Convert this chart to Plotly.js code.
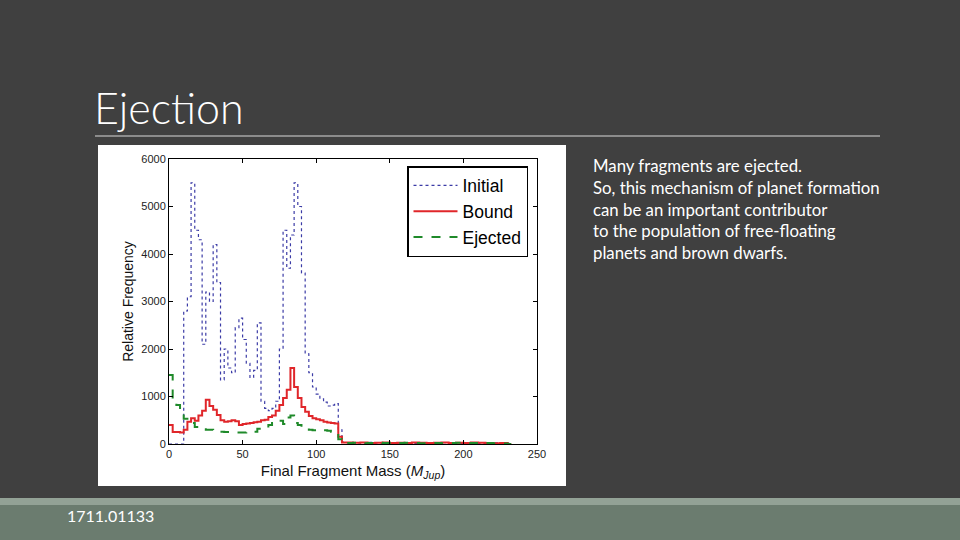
<!DOCTYPE html>
<html>
<head>
<meta charset="utf-8">
<script src="https://cdn.plot.ly/plotly-3.0.1.min.js"></script>
<style>
  html, body { margin: 0; padding: 0; background: #404040; }
  #chart { width: 960px; height: 540px; }
</style>
</head>
<body>
<div id="chart"></div>
<script>
// ---- data ----
const massEdges = [0,2.5,5,7.5,10,12.5,15,17.5,20,22.5,25,27.5,30,32.5,35,37.5,40,42.5,45,47.5,
  50,52.5,55,57.5,60,62.5,65,67.5,70,72.5,75,77.5,80,82.5,85,87.5,90,92.5,95,97.5,
  100,102.5,105,107.5,110,112.5,115,117.5,120,125,130,135,140,145,150,155,160,165,170,175,
  180,185,190,195,200,205,210,215,220,225,230,232.5];

const initialCounts = [0,0,0,0,2800,3100,5500,4500,4300,2100,3200,3000,4200,3400,1350,2000,1600,1500,2450,2650,
  2200,1700,1400,1550,2550,900,750,700,750,900,2000,4500,3700,4400,5500,5000,3600,1900,1500,1200,
  1050,950,880,800,820,850,300,40,
  30,25,20,35,20,15,25,20,30,15,20,25,20,30,20,15,25,20,15,20,25,15,20];

const boundCounts = [400,250,250,240,300,470,540,490,600,700,930,800,720,610,500,470,480,500,480,400,
  420,430,440,460,470,500,510,570,600,700,820,970,1140,1600,1200,970,780,680,590,540,
  520,500,470,450,440,430,150,30,
  30,25,30,20,25,30,20,25,20,30,25,20,25,30,20,25,20,30,25,20,15,20,0];

const ejectedCounts = [1450,880,820,650,530,440,440,360,340,310,300,300,280,260,260,250,250,240,240,240,
  240,245,250,260,320,360,370,400,440,460,490,420,560,600,440,400,350,330,300,290,
  290,280,290,280,260,250,100,30,
  20,25,15,20,25,20,15,20,25,20,15,20,20,15,20,25,15,20,15,20,15,10,0];

const seriesNames = ["Initial", "Bound", "Ejected"];
const xTickVals = [0, 50, 100, 150, 200, 250];
const yTickVals = [0, 1000, 2000, 3000, 4000, 5000, 6000];

const slideTitle = "Ejection";
const bodyLines = [
  "Many fragments are ejected.",
  "So, this mechanism of planet formation",
  "can be an important contributor",
  "to the population of free-floating",
  "planets and brown dwarfs."
];
const footerText = "1711.01133";

// ---- layout helpers (pixel -> paper, margins are zero) ----
const W = 960, H = 540;
const px = v => v / W;
const py = v => 1 - v / H;

function stepTrace(name, counts, color, dash, width) {
  return {
    type: "scatter", mode: "lines", name: name,
    x: massEdges, y: counts.concat([0]),
    line: { shape: "hv", color: color, dash: dash, width: width },
    hoverinfo: "skip"
  };
}

const traces = [
  stepTrace(seriesNames[0], initialCounts, "#3b3ba6", "dot", 1.2),
  stepTrace(seriesNames[1], boundCounts, "#e0262a", "solid", 2),
  stepTrace(seriesNames[2], ejectedCounts, "#1f8a2a", "dash", 2)
];

const axisFont = { family: "Liberation Sans, Arial, sans-serif", size: 11, color: "#222" };

const annotations = [
  { text: slideTitle, xref: "paper", yref: "paper", x: px(92), y: py(107),
    xanchor: "left", yanchor: "middle", showarrow: false,
    font: { family: "Lato, Open Sans, sans-serif", size: 43, color: "#ffffff", weight: 300 } },
  { text: footerText, xref: "paper", yref: "paper", x: px(65), y: py(515),
    xanchor: "left", yanchor: "middle", showarrow: false,
    font: { family: "Lato, Open Sans, sans-serif", size: 16, color: "#ffffff" } }
];
bodyLines.forEach((t, i) => {
  annotations.push({ text: t, xref: "paper", yref: "paper", x: px(591), y: py(166 + 21.5 * i),
    xanchor: "left", yanchor: "middle", showarrow: false,
    font: { family: "Lato, Open Sans, sans-serif", size: 16.8, color: "#ffffff" } });
});

const shapes = [
  // white picture area
  { type: "rect", xref: "paper", yref: "paper", x0: px(98), x1: px(566), y0: py(486), y1: py(145),
    fillcolor: "#ffffff", line: { width: 0 }, layer: "below" },
  // rule under title
  { type: "line", xref: "paper", yref: "paper", x0: px(95), x1: px(880), y0: py(136), y1: py(136),
    line: { color: "#d8d8d8", width: 1 }, layer: "below" },
  // footer
  { type: "rect", xref: "paper", yref: "paper", x0: 0, x1: 1, y0: py(540), y1: py(505),
    fillcolor: "#6b7c6f", line: { width: 0 }, layer: "below" },
  { type: "rect", xref: "paper", yref: "paper", x0: 0, x1: 1, y0: py(505), y1: py(498),
    fillcolor: "#93a296", line: { width: 0 }, layer: "below" }
];

const layout = {
  width: W, height: H,
  margin: { l: 0, r: 0, t: 0, b: 0 },
  paper_bgcolor: "#404040",
  plot_bgcolor: "#ffffff",
  showlegend: true,
  legend: {
    x: px(407), y: py(166), xanchor: "left", yanchor: "top",
    bgcolor: "#ffffff", bordercolor: "#000000", borderwidth: 1.5,
    font: { family: "Liberation Sans, Arial, sans-serif", size: 17.5, color: "#000" },
    itemwidth: 44, tracegroupgap: 0
  },
  xaxis: {
    domain: [px(169), px(537)], range: [0, 250],
    tickvals: xTickVals, ticks: "inside", ticklen: 4, tickcolor: "#000",
    showline: true, linecolor: "#000", linewidth: 1, mirror: "ticks",
    showgrid: false, zeroline: false, tickfont: axisFont,
    title: { text: "Final Fragment Mass (<i>M</i><sub><i>Jup</i></sub>)", standoff: 6,
      font: { family: "Liberation Sans, Arial, sans-serif", size: 15, color: "#111" } }
  },
  yaxis: {
    domain: [py(444), py(159)], range: [0, 6000],
    tickvals: yTickVals, ticks: "inside", ticklen: 4, tickcolor: "#000",
    showline: true, linecolor: "#000", linewidth: 1, mirror: "ticks",
    showgrid: false, zeroline: false, tickfont: axisFont,
    title: { text: "Relative Frequency", standoff: 4,
      font: { family: "Liberation Sans, Arial, sans-serif", size: 14, color: "#111" } }
  },
  shapes: shapes,
  annotations: annotations
};

Plotly.newPlot("chart", traces, layout, { staticPlot: true, displayModeBar: false });
</script>
</body>
</html>
